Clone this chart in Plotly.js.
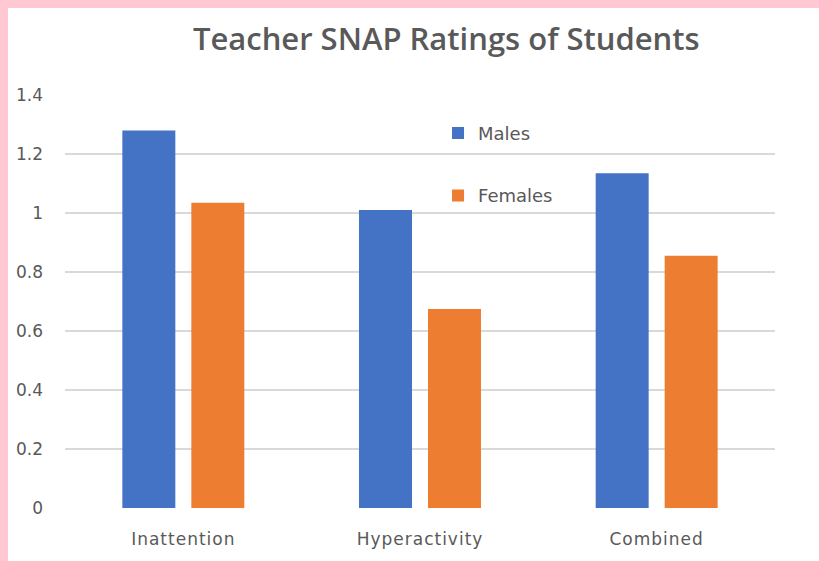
<!DOCTYPE html>
<html>
<head>
<meta charset="utf-8">
<script src="https://cdn.plot.ly/plotly-3.0.1.min.js"></script>
<style>
html,body{margin:0;padding:0;background:#ffc8d2;width:819px;height:561px;overflow:hidden;}
#chart{position:absolute;left:8px;top:8px;width:811px;height:553px;background:#fff;}
#chart .xtick text{letter-spacing:1px;}
</style>
</head>
<body>
<div id="chart"></div>
<script>
var categories = ["Inattention", "Hyperactivity", "Combined"];
var males = [1.28, 1.01, 1.135];
var females = [1.035, 0.675, 0.855];
var seriesNames = ["Males", "Females"];
var tickVals = [0, 0.2, 0.4, 0.6, 0.8, 1, 1.2, 1.4];
var tickText = ["0", "0.2", "0.4", "0.6", "0.8", "1", "1.2", "1.4"];

var data = [
  {type: "bar", name: seriesNames[0], x: categories, y: males, marker: {color: "#4472C4"}, legendgroup: "m"},
  {type: "bar", name: seriesNames[1], x: categories, y: females, marker: {color: "#ED7D31"}, legendgroup: "f"}
];

var layout = {
  width: 811, height: 553,
  margin: {l: 57, r: 44, t: 87, b: 53},
  paper_bgcolor: "#ffffff", plot_bgcolor: "#ffffff",
  font: {family: "DejaVu Sans, sans-serif", color: "#595959", size: 16},
  title: {text: "Teacher SNAP Ratings of Students", font: {family: "Open Sans, sans-serif", size: 31, weight: 600, color: "#595959"}, x: 0.537, xref: "paper", xanchor: "center", y: 0.943, yref: "container", yanchor: "middle"},
  barmode: "group",
  bargap: 0.417,
  bargroupgap: 0.232,
  xaxis: {showgrid: false, showline: false, ticks: "", tickfont: {size: 17}, ticklabelstandoff: 19},
  yaxis: {range: [0, 1.4], tickvals: tickVals, ticktext: tickText, showgrid: true, gridcolor: "#d9d9d9", gridwidth: 1.5, zeroline: false, showline: false, ticks: "", tickfont: {size: 17}, ticklabelstandoff: 21},
  showlegend: true,
  legend: {x: 0.5254, y: 0.952, xanchor: "left", yanchor: "top", bgcolor: "rgba(0,0,0,0)", font: {size: 18, color: "#595959"}, traceorder: "grouped", tracegroupgap: 36, itemwidth: 30}
};

Plotly.newPlot("chart", data, layout, {displayModeBar: false, staticPlot: true});
</script>
</body>
</html>
